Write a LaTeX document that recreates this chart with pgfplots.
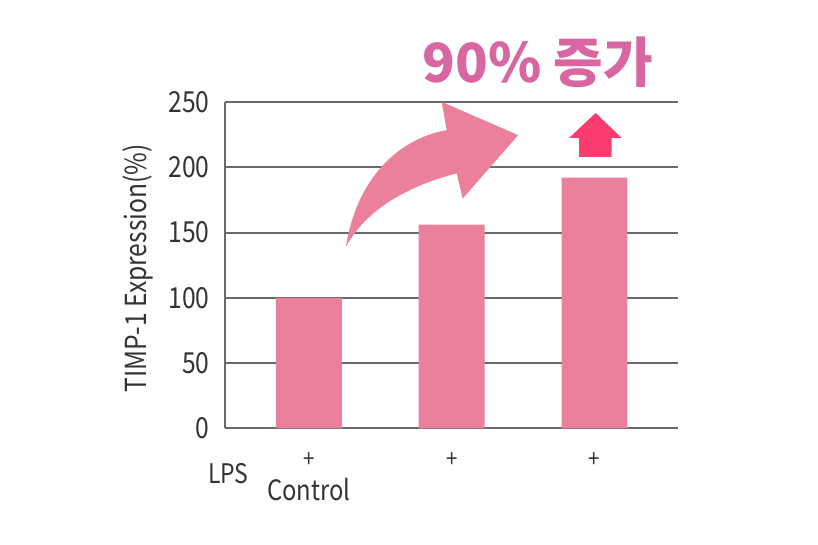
\documentclass[border=0pt]{standalone}
\usepackage{pgfplots}
\pgfplotsset{compat=1.18}
\usepackage{fontspec}
\setmainfont{Noto Sans CJK KR}
\newfontfamily\narrowfont[FakeStretch=0.85]{Noto Sans CJK KR}
\definecolor{barpink}{HTML}{EC7F9C}
\definecolor{uppink}{HTML}{FC3C6E}
\definecolor{titlepink}{HTML}{D866A0}
\definecolor{gridgray}{HTML}{6A6A6A}
\definecolor{labelgray}{HTML}{333333}

\begin{document}
\begin{tikzpicture}
\begin{axis}[
    scale only axis,
    width=226.5pt, height=163.2pt,
    xmin=0.412, xmax=3.585, ymin=0, ymax=250,
    axis y line*=left, axis x line*=bottom,
    axis line style={gridgray, line width=1pt, -},
    ytick={0,50,...,250},
    ymajorgrids,
    grid style={gridgray, line width=1pt},
    major tick length=0pt,
    xtick={1,2,3}, xticklabels={+,+,+},
    tick label style={font=\narrowfont\fontsize{14.5}{14.5}\selectfont, text=labelgray},
    yticklabel style={inner sep=0pt, xshift=-7.5pt},
    xticklabel style={inner sep=0pt, anchor=center, yshift=-16pt, font=\narrowfont\fontsize{12}{12}\selectfont},
    /pgf/number format/assume math mode=true,
    clip=false,
    ybar, bar width=0.462,
]
\addplot[fill=barpink, draw=none] coordinates {(1,100) (2,156) (3,192)};

% curved arrow
\fill[barpink] (axis cs:1.259,139) .. controls (axis cs:1.33,190) and (axis cs:1.62,222) .. (axis cs:1.965,228.4)
  -- (axis cs:1.930,250.1) -- (axis cs:2.466,224.6) -- (axis cs:2.077,176.1) -- (axis cs:2.035,195.3)
  .. controls (axis cs:1.70,186) and (axis cs:1.40,168) .. cycle;
% up arrow
\fill[uppink] (axis cs:2.893,208) -- (axis cs:2.893,222.5) -- (axis cs:2.823,222.5) -- (axis cs:3.008,241.6)
  -- (axis cs:3.190,222.5) -- (axis cs:3.120,222.5) -- (axis cs:3.120,208) -- cycle;

\node[anchor=base, font=\fontsize{27}{27}\selectfont\bfseries, text=titlepink] at (axis cs:2.604,265.2) {90\% 증가};
\node[rotate=90, font=\narrowfont\fontsize{14.5}{14.5}\selectfont, text=labelgray] at (axis cs:-0.198,122.7) {TIMP-1 Expression(\%)};
\node[anchor=base, font=\narrowfont\fontsize{13.5}{13.5}\selectfont, text=labelgray] at (axis cs:0.436,-41.9) {LPS};
\node[anchor=base, font=\narrowfont\fontsize{14}{14}\selectfont, text=labelgray] at (axis cs:1.0,-54.9) {Control};

\coordinate (O) at (rel axis cs:0,0);
\coordinate (T) at (rel axis cs:1,1);
\end{axis}
\pgfresetboundingbox
\path[use as bounding box] ([shift={(-112.5pt,-57.9pt)}]O) rectangle ([shift={(70pt,51pt)}]T);
\end{tikzpicture}
\end{document}
